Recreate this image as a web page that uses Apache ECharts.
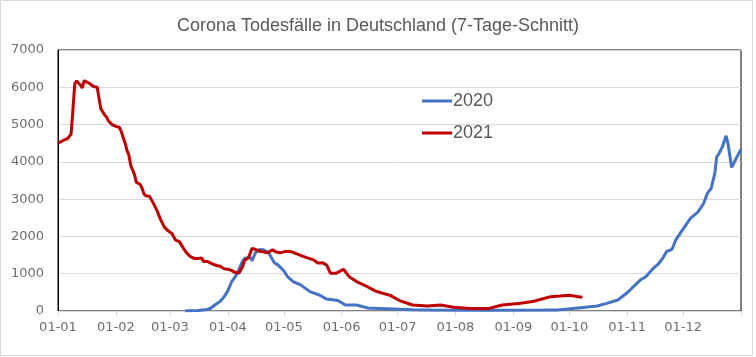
<!DOCTYPE html>
<html>
<head>
<meta charset="utf-8">
<script src="https://cdn.jsdelivr.net/npm/echarts@6/dist/echarts.min.js"></script>
<style>
html,body{margin:0;padding:0;background:#fff;}
#c{width:756px;height:357px;}
</style>
</head>
<body>
<div id="c"></div>
<script>
const titleText = 'Corona Todesfälle in Deutschland (7-Tage-Schnitt)';
const monthStarts = [0, 31, 60, 91, 121, 152, 182, 213, 244, 274, 305, 335];
const monthLabels = ['01-01','01-02','01-03','01-04','01-05','01-06','01-07','01-08','01-09','01-10','01-11','01-12'];
const yTicks = [0, 1000, 2000, 3000, 4000, 5000, 6000, 7000];

const seriesNames = ['2020', '2021'];

const days2020 = [68,70,75,80,82,84,87,89,91,93,95,96,98,99,100,103,104,106,108,110,113,114,116,118,121,123,126,130,135,140,144,150,154,160,166,172,180,190,200,230,260,268,280,289,294,300,305,312,315,319,322,324,326,329,331,334,339,343,346,348,350,352,353,354,356,358,359,361,363,366];
const vals2020 = [0,5,15,40,80,160,260,380,540,780,920,1010,1240,1340,1410,1440,1350,1580,1650,1640,1560,1460,1290,1230,1080,920,790,700,520,430,320,280,160,160,80,70,55,35,25,20,25,30,90,135,205,295,490,830,920,1145,1280,1410,1590,1650,1900,2130,2490,2660,2890,3160,3290,3700,4140,4200,4400,4700,4500,3850,4050,4340];

const days2021 = [0,3,5,7,8,9,10,12,13,14,15,17,19,20,21,22,23,25,26,27,29,31,33,34,35,36,37,38,39,40,41,42,44,45,46,47,49,51,53,55,57,59,61,63,65,67,69,71,73,75,76,77,78,80,81,83,85,87,89,91,93,95,96,97,99,100,102,104,106,108,110,112,115,117,119,122,125,128,131,134,137,139,142,144,146,149,150,153,156,160,165,170,173,178,183,190,198,205,212,221,231,238,248,255,260,264,269,274,278,281];
const vals2021 = [4500,4580,4620,4740,5400,6100,6170,6060,5980,6180,6220,6100,6020,5980,6000,5700,5420,5260,5200,5100,5000,4950,4920,4800,4640,4500,4300,4180,3900,3780,3650,3450,3400,3300,3150,3090,3080,2900,2700,2450,2250,2150,2080,1900,1860,1700,1550,1460,1410,1410,1460,1420,1330,1330,1350,1260,1220,1200,1130,1120,1090,1030,1010,1020,1200,1360,1420,1680,1650,1600,1590,1560,1640,1580,1560,1600,1590,1530,1470,1420,1370,1290,1290,1230,1010,1010,1050,1120,920,790,670,540,490,420,280,160,135,160,100,70,70,160,205,260,330,385,400,425,390,370];

function pairs(d, v) { return d.map((x, i) => [x, v[i]]); }

const chart = echarts.init(document.getElementById('c'), null, {renderer: 'canvas'});
const txt = '#595959';
const lbl = '#6e6e6e';
const lblFont = 'DejaVu Sans, Liberation Sans, sans-serif';
chart.setOption({
  animation: false,
  backgroundColor: '#fff',
  title: {
    text: titleText,
    left: 'center',
    top: 12,
    textStyle: {fontFamily: 'Liberation Sans Narrow, Arial Narrow, Liberation Sans, sans-serif', fontSize: 18, fontWeight: 'normal', color: txt}
  },
  graphic: [{
    type: 'rect', shape: {x: 0.5, y: 0.5, width: 752, height: 355},
    style: {fill: 'none', stroke: '#d9d9d9', lineWidth: 1}, silent: true
  }],
  legend: {
    orient: 'vertical',
    left: 417,
    top: 87,
    itemWidth: 30,
    itemHeight: 3,
    itemGap: 14,
    icon: 'rect',
    data: seriesNames,
    textStyle: {fontFamily: 'Liberation Sans, Arial, sans-serif', fontSize: 18, color: txt, padding: [0,0,0,-4]}
  },
  grid: {left: 58, right: 15, top: 50, bottom: 46, show: true, borderColor: '#000', borderWidth: 1, containLabel: false},
  xAxis: {
    type: 'value', min: 0, max: 366,
    splitLine: {show: false},
    axisLine: {show: true, lineStyle: {color: '#d9d9d9', width: 1}},
    axisTick: {show: true, length: 5, lineStyle: {color: '#d9d9d9'}, customValues: monthStarts.concat([366])},
    axisLabel: {
      customValues: monthStarts,
      formatter: v => monthLabels[monthStarts.indexOf(Math.round(v))] || '',
      fontFamily: lblFont, fontSize: 13, color: lbl, margin: 10
    }
  },
  yAxis: {
    type: 'value', min: 0, max: 7000, interval: 1000,
    axisLine: {show: true, lineStyle: {color: '#000'}},
    axisTick: {show: false},
    splitLine: {show: true, lineStyle: {color: '#d9d9d9', width: 1}},
    axisLabel: {fontFamily: lblFont, fontSize: 13, color: lbl, margin: 14, formatter: v => String(v)}
  },
  series: [
    {name: seriesNames[0], type: 'line', data: pairs(days2020, vals2020), showSymbol: false, smooth: false,
     lineStyle: {color: '#4472C4', width: 3}, itemStyle: {color: '#4472C4'}},
    {name: seriesNames[1], type: 'line', data: pairs(days2021, vals2021), showSymbol: false, smooth: false,
     lineStyle: {color: '#C00000', width: 3}, itemStyle: {color: '#C00000'}}
  ]
});
</script>
</body>
</html>
